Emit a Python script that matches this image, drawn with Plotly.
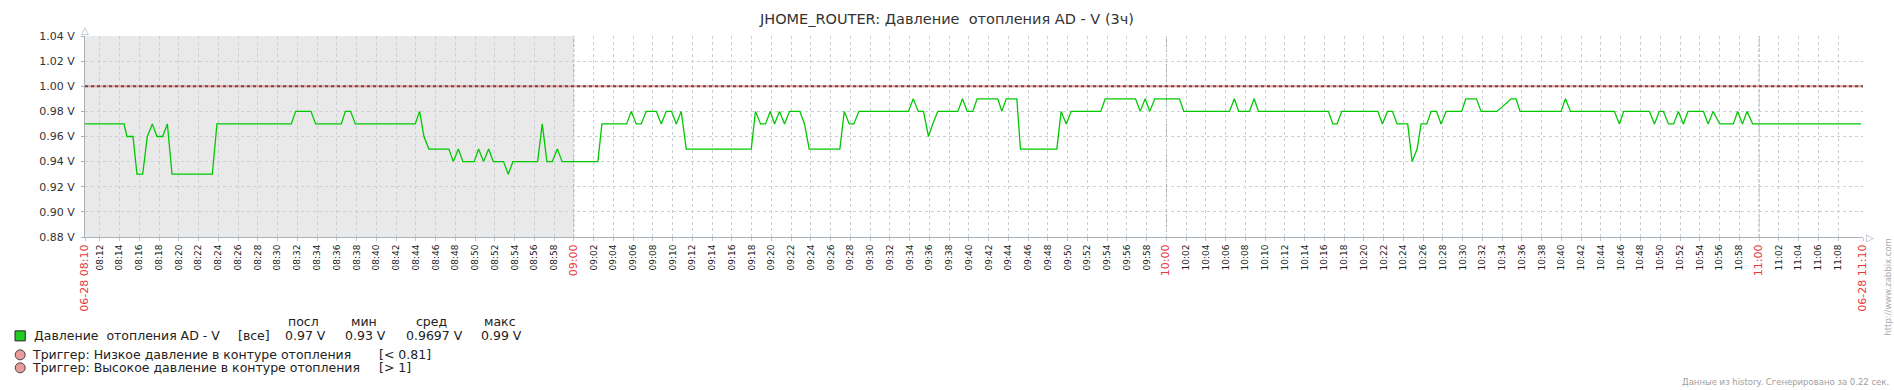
import datetime as dt
import plotly.graph_objects as go

# ---------------- data ----------------
date_str = "2024-06-28"
start_time = "08:10"
minutes_since_start = [
    0.5, 4.45, 4.75, 5.36, 5.76, 6.34, 6.81, 7.32, 7.79, 8.36, 8.84, 9.31, 13.39, 13.86,
    21.39, 21.83, 23.38, 23.85, 26.45, 26.86, 27.39, 27.87, 33.94, 34.38, 34.82, 35.32,
    37.35, 37.79, 38.30, 38.77, 39.91, 40.35, 40.86, 41.37, 41.84, 42.88, 43.36, 43.83,
    46.33, 46.80, 47.27, 47.81, 48.32, 48.82, 52.43, 52.84, 55.34, 55.81, 56.32, 56.82,
    57.33, 58.34, 58.85, 59.35, 59.89, 60.37, 60.87, 61.38, 67.96, 68.39, 68.90, 69.41,
    69.88, 70.32, 70.82, 71.33, 71.84, 72.88, 73.35, 73.83, 76.93, 77.38, 77.88, 78.35,
    78.86, 83.88, 84.36, 84.87, 85.40, 85.91, 86.34, 86.85, 88.88, 89.35, 89.83, 90.39,
    90.83, 92.93, 93.33, 93.78, 94.85, 95.22, 98.90, 99.34, 99.85, 100.36, 103.35, 103.80,
    106.87, 107.34, 107.85, 108.31, 108.82, 111.32, 111.76, 116.38, 116.88, 117.32, 118.41,
    118.88, 119.32, 126.40, 126.84, 127.28, 127.75, 131.40, 131.87, 132.38, 132.88, 133.36,
    134.43, 134.88, 135.38, 135.79, 136.36, 136.80, 137.34, 137.81, 138.32, 139.90, 140.31,
    141.39, 141.86, 143.48, 144.90, 145.40, 145.81, 149.96, 150.40, 150.91, 155.36, 155.86,
    156.30, 158.90, 159.41, 159.91, 160.32, 160.83, 161.36, 161.83, 162.34, 162.81, 164.37,
    164.85, 165.35, 166.02, 167.40, 167.84, 168.32, 168.79, 169.36, 180.33,
]
pressure_v = [
    0.97, 0.97, 0.96, 0.96, 0.93, 0.93, 0.96, 0.97, 0.96, 0.96, 0.97, 0.93, 0.93, 0.97,
    0.97, 0.98, 0.98, 0.97, 0.97, 0.98, 0.98, 0.97, 0.97, 0.98, 0.96, 0.95,
    0.95, 0.94, 0.95, 0.94, 0.94, 0.95, 0.94, 0.95, 0.94, 0.94, 0.93, 0.94,
    0.94, 0.97, 0.94, 0.94, 0.95, 0.94, 0.94, 0.97, 0.97, 0.98, 0.97, 0.97,
    0.98, 0.98, 0.97, 0.98, 0.98, 0.97, 0.98, 0.95, 0.95, 0.98, 0.97, 0.97,
    0.98, 0.97, 0.98, 0.97, 0.98, 0.98, 0.97, 0.95, 0.95, 0.98, 0.97, 0.97,
    0.98, 0.98, 0.99, 0.98, 0.98, 0.96, 0.97, 0.98, 0.98, 0.99, 0.98, 0.98,
    0.99, 0.99, 0.98, 0.99, 0.99, 0.95, 0.95, 0.98, 0.97, 0.98, 0.98, 0.99,
    0.99, 0.98, 0.99, 0.98, 0.99, 0.99, 0.98, 0.98, 0.99, 0.98, 0.98,
    0.99, 0.98, 0.98, 0.97, 0.97, 0.98, 0.98, 0.97, 0.98, 0.98, 0.97,
    0.97, 0.94, 0.95, 0.97, 0.97, 0.98, 0.98, 0.97, 0.98, 0.98, 0.99,
    0.99, 0.98, 0.98, 0.99, 0.99, 0.98, 0.98, 0.99, 0.98, 0.98, 0.97,
    0.98, 0.98, 0.97, 0.98, 0.98, 0.97, 0.97, 0.98, 0.97, 0.98, 0.98,
    0.97, 0.98, 0.97, 0.97, 0.98, 0.97, 0.98, 0.97, 0.97,
]
range_minutes = [0.5, 180.53]
work_start = "09:00"
hour_marks = ["09:00", "10:00", "11:00"]
trigger_high = 1.0
y_ticks = [0.88, 0.90, 0.92, 0.94, 0.96, 0.98, 1.00, 1.02, 1.04]
minor_tick_labels = [f"{h:02d}:{m:02d}" for h in (8, 9, 10, 11) for m in range(0, 60, 2)
                     if "08:12" <= f"{h:02d}:{m:02d}" <= "11:08"]
edge_labels = ["06-28 08:10", "06-28 11:10"]

NB = "\u00a0"
title_text = f"JHOME_ROUTER: Давление{NB} отопления AD - V (3ч)"
series_name = f"Давление{NB} отопления AD - V"
stat_headers = ["посл", "мин", "сред", "макс"]
stat_values = ["0.97 V", "0.93 V", "0.9697 V", "0.99 V"]
trigger_names = ["Триггер: Низкое давление в контуре отопления",
                 "Триггер: Высокое давление в контуре отопления"]
trigger_conds = ["[< 0.81]", "[> 1]"]

# ---------------- helpers ----------------
base = dt.datetime.fromisoformat(f"{date_str} {start_time}")
def at(hhmm):
    return dt.datetime.fromisoformat(f"{date_str} {hhmm}")

x_vals = [base + dt.timedelta(minutes=m) for m in minutes_since_start]
x_range = [base + dt.timedelta(minutes=m) for m in range_minutes]

W, H = 1894, 390
PL, PR, PT, PB = 85.3, 1863.3, 35.7, 237.0
def px(x):
    return (x - PL) / (PR - PL)
def py(y):
    return (PB - y) / (PB - PT)

FONT = "DejaVu Sans"
RED = "#e8373a"
TXT = "#222222"
LEG = 12.5

tickvals, ticktext = [x_range[0]], [f"<span style='font-size:11px;color:{RED}'>{edge_labels[0]}</span>"]
for lab in minor_tick_labels:
    tickvals.append(at(lab))
    if lab in hour_marks:
        ticktext.append(f"<span style='font-size:11px;color:{RED}'>{lab}</span>")
    else:
        ticktext.append(lab)
tickvals.append(x_range[1])
ticktext.append(f"<span style='font-size:11px;color:{RED}'>{edge_labels[1]}</span>")

fig = go.Figure()
fig.add_trace(go.Scatter(x=x_vals, y=pressure_v, mode="lines",
                         line=dict(color="#00c800", width=1.3), showlegend=False,
                         hoverinfo="skip"))

fig.add_shape(type="rect", xref="x", yref="paper", x0=x_range[0], x1=at(work_start),
              y0=0, y1=1, fillcolor="#e9e9e9", line=dict(width=0), layer="below")
for hm in hour_marks:
    fig.add_vline(x=at(hm), line=dict(color="#a2a9b0", width=1, dash="3px,2px"), layer="below")

fig.add_hline(y=trigger_high, line=dict(color="#ee9999", width=2))
fig.add_hline(y=trigger_high, line=dict(color="#555555", width=2, dash="3px,3px"))

fig.update_layout(
    width=W, height=H,
    margin=dict(l=PL, r=W - PR, t=PT, b=H - PB, autoexpand=False),
    paper_bgcolor="white", plot_bgcolor="white",
    font=dict(family=FONT, color=TXT, size=11),
    title=dict(text=title_text, x=0.5, xref="container", xanchor="center",
               y=1 - 19 / H, yref="container", yanchor="middle",
               font=dict(family=FONT, size=14.5, color="#333333")),
    showlegend=False,
)
fig.update_xaxes(
    type="date", range=x_range, tickmode="array", tickvals=tickvals, ticktext=ticktext,
    tickangle=-90, tickfont=dict(family=FONT, size=9, color=TXT),
    showgrid=True, gridcolor="#c8d0d6", griddash="3px,3px", gridwidth=1,
    showline=True, linecolor="#a8b0b8", linewidth=1,
    ticks="outside", ticklen=3, tickcolor="#c0c6cc", zeroline=False,
)
fig.update_yaxes(
    range=[y_ticks[0], y_ticks[-1]], tickmode="array", tickvals=y_ticks,
    ticktext=[f"{v:.2f} V" for v in y_ticks],
    tickfont=dict(family=FONT, size=11, color="#333333"),
    showgrid=True, gridcolor="#c8d0d6", griddash="3px,3px", gridwidth=1,
    showline=True, linecolor="#a8b0b8", linewidth=1, zeroline=False,
    ticks="outside", ticklen=3, tickcolor="#a8b0b8", ticklabelstandoff=4,
)

def text(x, y, s, anchor="left", size=LEG, color=TXT, angle=0):
    fig.add_annotation(xref="paper", yref="paper", x=px(x), y=py(y), text=s,
                       showarrow=False, xanchor=anchor, yanchor="middle",
                       font=dict(family=FONT, size=size, color=color), textangle=angle)

text(85.3, 30, "△", anchor="center", size=10, color="#a8b0b8")
text(1870, 237, "▷", anchor="center", size=10, color="#a8b0b8")

for cx, h in zip([304, 364, 432, 500], stat_headers):
    text(cx, 322, h, anchor="center")
fig.add_shape(type="rect", xref="paper", yref="paper", x0=px(15.3), x1=px(25.6),
              y0=py(341), y1=py(331), fillcolor="#22cc22", line=dict(color="#222222", width=1))
text(31.8, 336, series_name)
text(236.5, 336, "[все]")
for lx, v in zip([283.2, 343.7, 403.8, 479.5], stat_values):
    text(lx, 336, v)
for ry, name, cond in zip([355, 368], trigger_names, trigger_conds):
    fig.add_shape(type="circle", xref="paper", yref="paper", x0=px(15.5), x1=px(25.5),
                  y0=py(ry + 5), y1=py(ry - 5), fillcolor="#e89c9c",
                  line=dict(color="#444444", width=1))
    text(29.9, ry, name)
    text(377, ry, cond)

text(1888, 287, "http://www.zabbix.com", anchor="center", size=8.5, color="#aaaaaa", angle=-90)
fig.add_annotation(xref="paper", yref="paper", x=px(1891), y=py(382),
                   text="Данные из history. Сгенерировано за 0.22 сек.", showarrow=False,
                   xanchor="right", yanchor="middle",
                   font=dict(family=FONT, size=8.5, color="#a0a0a0"))

fig.write_html("out.html", config={"displayModeBar": False},
               post_script="document.body.style.margin='0px';document.body.style.overflow='hidden';")
